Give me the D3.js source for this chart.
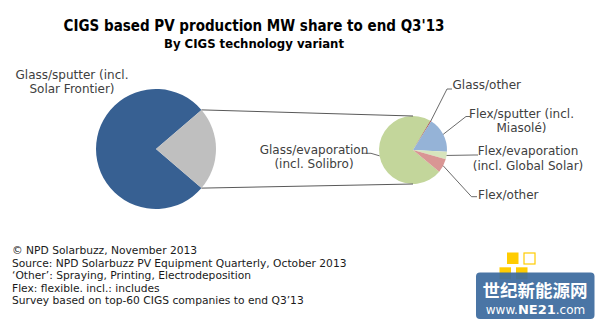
<!DOCTYPE html>
<html>
<head>
<meta charset="utf-8">
<script src="https://cdn.jsdelivr.net/npm/d3@7"></script>
<style>
  html, body { margin: 0; padding: 0; background: #fff; }
  svg { display: block; }
</style>
</head>
<body>
<svg id="chart" width="600" height="327"></svg>
<script>
// ---------- data ----------
const title = "CIGS based PV production MW share to end Q3'13";
const subtitle = "By CIGS technology variant";
const mainCategories = ["Glass/sputter (incl. Solar Frontier)", "Other variants"];
const mainValues = [77.4, 22.6];
const otherCategories = ["Glass/evaporation (incl. Solibro)", "Glass/other", "Flex/sputter (incl. Miasolé)", "Flex/evaporation (incl. Global Solar)", "Flex/other"];
const otherValues = [16.4, 0.1, 3.8, 0.8, 1.5];
const notes = [
  "© NPD Solarbuzz, November 2013",
  "Source: NPD Solarbuzz PV Equipment Quarterly, October 2013",
  "‘Other’: Spraying, Printing,  Electrodeposition",
  "Flex: flexible. incl.:  includes",
  "Survey based on top-60 CIGS companies to end Q3’13"
];

// ---------- styles / layout ----------
const mainColors = ["#376092", "#BFBFBF"];
const otherColors = ["#C3D69B", "#A5403C", "#95B3D7", "#D7E4BD", "#D99694"];
const labelFont = "DejaVu Sans";
const svg = d3.select("#chart");

svg.append("text").attr("x", 254).attr("y", 31).attr("text-anchor", "middle")
  .attr("font-family", "DejaVu Sans Condensed").attr("font-weight", "bold")
  .attr("font-size", 15).attr("fill", "#000").text(title);
svg.append("text").attr("x", 254).attr("y", 48).attr("text-anchor", "middle")
  .attr("font-family", "DejaVu Sans Condensed").attr("font-weight", "bold")
  .attr("font-size", 13).attr("fill", "#000").text(subtitle);

// main pie
const mc = {x: 156, y: 149, r: 60};
const otherShare = mainValues[1] / d3.sum(mainValues);
const otherSpan = otherShare * 2 * Math.PI;
const mainPie = d3.pie().sort(null)
  .startAngle(Math.PI / 2 + otherSpan / 2)
  .endAngle(Math.PI / 2 + otherSpan / 2 + 2 * Math.PI);
const mainArcs = mainPie(mainValues);
const arcMain = d3.arc().innerRadius(0).outerRadius(mc.r);
svg.append("g").attr("transform", `translate(${mc.x},${mc.y})`)
  .selectAll("path").data(mainArcs).join("path")
  .attr("d", arcMain).attr("fill", (d, i) => mainColors[i]);

// secondary pie
const sc = {x: 413, y: 150, r: 34};
const secStart = 129.5 * Math.PI / 180;
const secPie = d3.pie().sort(null).startAngle(secStart).endAngle(secStart + 2 * Math.PI);
const secArcs = secPie(otherValues);
const arcSec = d3.arc().innerRadius(0).outerRadius(sc.r);
svg.append("g").attr("transform", `translate(${sc.x},${sc.y})`)
  .selectAll("path").data(secArcs).join("path")
  .attr("d", arcSec).attr("fill", (d, i) => otherColors[i]);

// connector lines between pies
const pt = (c, r, a) => [c.x + r * Math.sin(a), c.y - r * Math.cos(a)];
const gA = mainArcs[1];
const p1 = pt(mc, mc.r, gA.startAngle), p2 = pt(mc, mc.r, gA.endAngle);
svg.append("line").attr("x1", p1[0]).attr("y1", p1[1]).attr("x2", sc.x).attr("y2", sc.y - sc.r)
  .attr("stroke", "#595959").attr("stroke-width", 1);
svg.append("line").attr("x1", p2[0]).attr("y1", p2[1]).attr("x2", sc.x).attr("y2", sc.y + sc.r)
  .attr("stroke", "#595959").attr("stroke-width", 1);

// labels
function multiText(x, y, lines, anchor) {
  const t = svg.append("text").attr("x", x).attr("y", y).attr("text-anchor", anchor)
    .attr("font-family", labelFont).attr("font-size", 12).attr("fill", "#404040");
  lines.forEach((l, i) => t.append("tspan").attr("x", x).attr("dy", i ? 14.6 : 0).text(l));
}
multiText(72, 78.5, ["Glass/sputter (incl.", "Solar Frontier)"], "middle");

// secondary label layout
const secLabelLayout = [
  {lines: ["Glass/evaporation", "(incl. Solibro)"], x: 314, y: 153.5, anchor: "middle", ex: 371, ey: 153.3, hx: 362},
  {lines: ["Glass/other"], x: 452.5, y: 88.5, anchor: "start", ex: 447, ey: 89, hx: 452},
  {lines: ["Flex/sputter (incl.", "Miasolé)"], x: 521.5, y: 117.5, anchor: "middle", ex: 466, ey: 116.5, hx: 470},
  {lines: ["Flex/evaporation", "(incl. Global Solar)"], x: 528, y: 155, anchor: "middle", ex: 474, ey: 155, hx: 478},
  {lines: ["Flex/other"], x: 478, y: 198.5, anchor: "start", ex: 471.5, ey: 196.7, hx: 477}
];
secArcs.forEach((a, i) => {
  const L = secLabelLayout[i];
  const mid = (a.startAngle + a.endAngle) / 2;
  const e = pt(sc, sc.r, mid);
  svg.append("polyline")
    .attr("points", [[e[0], e[1]], [L.ex, L.ey], [L.hx, L.ey]].map(p => p.join(",")).join(" "))
    .attr("fill", "none").attr("stroke", "#595959").attr("stroke-width", 0.9);
  multiText(L.x, L.y, L.lines, L.anchor);
});

// notes
const nt = svg.append("text").attr("font-family", "DejaVu Sans").attr("font-size", 10.7).attr("fill", "#1a1a1a");
notes.forEach((n, i) => nt.append("tspan").attr("x", 12).attr("y", 254 + i * 12.5).text(n));

// watermark
const wm = svg.append("g");
wm.append("rect").attr("x", 507).attr("y", 252.5).attr("width", 11.5).attr("height", 11.5).attr("fill", "#FFCC00");
wm.append("rect").attr("x", 524).attr("y", 253).attr("width", 11).attr("height", 11).attr("fill", "#fff").attr("stroke", "#FFCC00").attr("stroke-width", 1.2);
wm.append("rect").attr("x", 499.5).attr("y", 267.3).attr("width", 11.5).attr("height", 12).attr("fill", "#FFCC00");
wm.append("rect").attr("x", 516).attr("y", 267.3).attr("width", 11.5).attr("height", 12).attr("fill", "#FFCC00");
wm.append("rect").attr("x", 476).attr("y", 272.5).attr("width", 118.5).attr("height", 46.5).attr("rx", 4)
  .attr("fill", "#3C6A9E").attr("fill-opacity", 0.93);
wm.append("text").attr("x", 535).attr("y", 297).attr("text-anchor", "middle")
  .attr("font-family", "Noto Sans CJK SC").attr("font-weight", "bold").attr("font-size", 17.5)
  .attr("fill", "#fff").text("世纪新能源网");
const ww = wm.append("text").attr("x", 535.5).attr("y", 313.5).attr("text-anchor", "middle")
  .attr("font-family", "DejaVu Sans").attr("font-size", 12).attr("fill", "#fff");
ww.append("tspan").text("www.");
ww.append("tspan").attr("font-weight", "bold").attr("font-size", 13).text("NE21");
ww.append("tspan").text(".com");
</script>
</body>
</html>
